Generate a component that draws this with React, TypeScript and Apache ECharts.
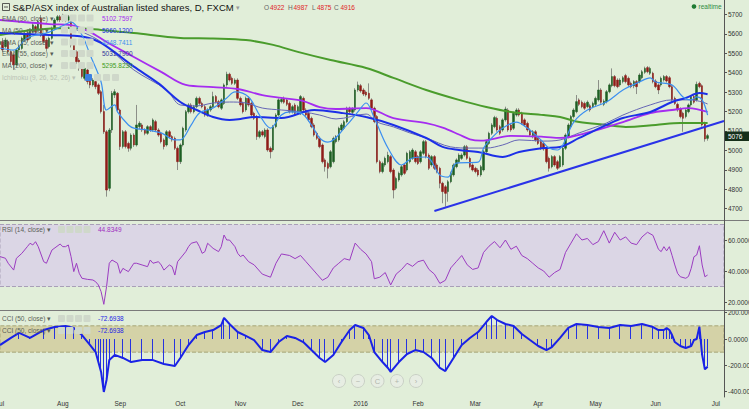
import React, { useEffect, useRef } from "react";
import * as echarts from "echarts";

// ---------- DATA ----------
// daily candles [open, close, low, high], weekdays from 2015-07-01
const candles: number[][] = [
  [5545,5560,5530,5575],[5560,5517,5505,5578],[5534,5568,5525,5580],[5560,5508,5498,5570],[5508,5457,5440,5515],
  [5491,5440,5414,5500],[5440,5517,5432,5525],[5517,5534,5505,5545],[5525,5577,5518,5586],[5568,5603,5560,5612],
  [5603,5568,5555,5615],[5577,5620,5570,5628],[5611,5646,5603,5655],[5637,5611,5600,5646],[5620,5663,5612,5672],
  [5680,5594,5585,5697],[5594,5560,5550,5603],[5568,5525,5512,5577],[5534,5577,5525,5586],[5577,5628,5570,5637],
  [5628,5671,5620,5680],[5671,5688,5663,5697],[5688,5671,5660,5697],[5671,5697,5663,5703],[5688,5671,5660,5697],
  [5671,5688,5663,5697],[5663,5543,5530,5672],[5543,5491,5480,5550],[5508,5457,5445,5515],[5465,5422,5410,5475],
  [5431,5380,5370,5440],[5371,5422,5360,5430],[5414,5354,5340,5422],[5362,5337,5320,5370],[5337,5362,5328,5372],
  [5354,5328,5315,5362],[5337,5294,5285,5345],[5302,5200,5190,5310],[5200,5096,5085,5234],[5096,4796,4762,5105],
  [4805,5105,4790,5115],[5105,5294,5090,5306],[5285,5302,5270,5315],[5294,5208,5195,5300],[5208,5020,5002,5215],
  [5020,5096,5010,5105],[5096,5020,5010,5105],[5036,5011,4993,5045],[5011,5079,5000,5088],[5079,5028,5018,5088],
  [5028,5131,5020,5234],[5122,5140,5110,5150],[5131,5105,5095,5140],[5105,5088,5078,5114],[5088,5122,5080,5130],
  [5122,5105,5095,5130],[5105,5157,5096,5165],[5148,5105,5096,5157],[5105,5079,5070,5114],[5088,5045,5036,5096],
  [5054,5020,5005,5062],[5028,5096,5020,5105],[5096,5071,5062,5105],[5071,5054,5045,5079],[5062,5011,5002,5071],
  [5011,4942,4899,5020],[4942,5028,4930,5036],[5028,5114,5020,5122],[5105,5199,5096,5208],[5199,5234,5190,5243],
  [5234,5199,5190,5243],[5199,5225,5190,5234],[5225,5268,5217,5277],[5268,5242,5234,5277],[5242,5225,5217,5251],
  [5225,5182,5173,5234],[5182,5208,5173,5217],[5208,5225,5199,5234],[5225,5277,5217,5302],[5277,5251,5242,5285],
  [5251,5225,5217,5260],[5217,5260,5208,5268],[5242,5337,5234,5345],[5337,5392,5328,5405],[5392,5362,5354,5400],
  [5371,5345,5337,5380],[5345,5362,5337,5371],[5362,5268,5260,5371],[5268,5234,5225,5277],[5242,5199,5190,5251],
  [5208,5268,5199,5277],[5268,5234,5225,5277],[5242,5182,5173,5251],[5191,5165,5157,5199],[5174,5071,5054,5182],
  [5071,5096,5062,5105],[5096,5079,5071,5105],[5071,5105,5062,5114],[5105,5002,4993,5114],[5011,4993,4959,5020],
  [5002,5122,4993,5131],[5122,5182,5114,5191],[5182,5260,5174,5268],[5251,5262,5242,5270],[5268,5248,5240,5277],
  [5260,5237,5228,5268],[5242,5199,5190,5251],[5199,5225,5190,5234],[5234,5191,5182,5243],[5199,5225,5190,5234],
  [5191,5277,5182,5285],[5268,5208,5199,5277],[5208,5182,5173,5217],[5191,5157,5148,5199],[5165,5122,5114,5174],
  [5131,5079,5071,5140],[5088,5062,5054,5096],[5062,5019,5011,5071],[5028,4942,4933,5036],[4951,4916,4891,4959],
  [4933,4908,4856,4942],[4916,4993,4908,5002],[4942,5062,4933,5071],[5045,5071,5036,5079],[5054,5114,5045,5122],
  [5105,5131,5096,5140],[5114,5148,5105,5157],[5148,5217,5140,5225],[5217,5199,5190,5225],[5196,5213,5187,5222],
  [5208,5311,5199,5320],[5311,5337,5302,5354],[5333,5306,5297,5342],[5311,5290,5280,5320],[5300,5285,5277,5308],
  [5294,5268,5260,5345],[5260,5217,5208,5268],[5217,5148,5140,5225],[5174,4942,4933,5182],[4942,4891,4882,4951],
  [4891,4933,4882,4942],[4925,4959,4916,4968],[4942,4976,4933,4993],[4968,4891,4882,4976],[4899,4796,4753,4908],
  [4805,4856,4796,4865],[4848,4882,4839,4891],[4874,4916,4865,4925],[4925,4882,4874,4933],[4899,4985,4891,4993],
  [4942,4993,4933,5002],[4959,5002,4951,5011],[4993,4942,4933,5002],[4968,4933,4925,4976],[4942,4993,4933,5002],
  [4985,5045,4976,5054],[5045,4968,4959,5054],[4976,4908,4899,4985],[4925,4968,4916,4976],[4968,4908,4899,4976],
  [4925,4891,4882,4933],[4908,4831,4805,4916],[4831,4788,4728,4839],[4813,4779,4711,4822],[4788,4839,4736,4848],
  [4839,4882,4831,4891],[4874,4925,4865,4933],[4916,4951,4908,4959],[4942,4976,4933,4985],[4959,4976,4951,4985],
  [4976,5019,4968,5028],[5019,4959,4951,5028],[4959,4916,4908,4968],[4925,4899,4891,4933],[4908,4891,4882,4916],
  [4899,4874,4865,4908],[4874,4916,4865,4925],[4899,4993,4891,5002],[4993,5045,4985,5054],[5036,5088,5028,5096],
  [5088,5131,5079,5140],[5122,5169,5114,5178],[5165,5105,5096,5174],[5122,5088,5079,5131],[5105,5157,5096,5165],
  [5157,5213,5148,5225],[5208,5105,5096,5217],[5131,5105,5096,5140],[5114,5191,5105,5199],[5182,5208,5174,5217],
  [5208,5182,5174,5217],[5191,5139,5131,5199],[5157,5131,5122,5165],[5139,5105,5096,5148],[5105,5079,5071,5114],
  [5071,5096,5062,5105],[5096,5054,5045,5105],[5062,5036,5028,5071],[5045,5011,5002,5054],[5036,5007,4998,5045],
  [5011,4942,4933,5020],[4959,4908,4891,4968],[4916,4968,4908,4976],[4968,4925,4916,4976],[4942,4908,4899,4951],
  [4916,4968,4908,4976],[4925,5011,4916,5020],[5011,5079,5002,5088],[5071,5131,5062,5140],[5122,5174,5114,5182],
  [5174,5208,5165,5217],[5199,5251,5191,5285],[5260,5237,5228,5268],[5248,5225,5217,5257],[5242,5217,5208,5251],
  [5225,5248,5217,5257],[5230,5208,5199,5240],[5225,5242,5217,5251],[5237,5268,5228,5277],[5260,5311,5251,5362],
  [5311,5248,5240,5320],[5237,5254,5228,5263],[5251,5302,5242,5311],[5302,5337,5294,5345],[5333,5380,5325,5422],
  [5380,5333,5325,5388],[5362,5328,5320,5371],[5337,5362,5328,5371],[5354,5374,5345,5383],[5385,5354,5345,5394],
  [5371,5337,5328,5380],[5345,5328,5320,5354],[5332,5354,5320,5362],[5354,5328,5290,5362],[5354,5388,5345,5397],
  [5374,5405,5366,5414],[5402,5422,5394,5431],[5426,5405,5397,5434],[5397,5422,5388,5431],[5397,5354,5345,5405],
  [5357,5328,5320,5366],[5337,5311,5290,5345],[5337,5371,5328,5380],[5362,5380,5354,5388],[5380,5357,5349,5388],
  [5374,5328,5320,5383],[5328,5260,5251,5337],[5268,5242,5234,5277],[5237,5208,5199,5246],[5213,5174,5165,5222],
  [5191,5165,5096,5199],[5174,5208,5165,5217],[5199,5234,5191,5242],[5234,5277,5225,5285],[5277,5248,5240,5285],
  [5260,5340,5251,5354],[5345,5328,5320,5354],[5333,5131,5122,5340],[5140,5059,5045,5148],[5062,5076,5050,5085],
];

// moving averages read at sample bars: [bar index, value]
const ema90: number[][] = [[0,5671],[18,5650],[26,5645],[33,5609],[39,5558],[49,5481],[59,5404],[68,5337],[78,5326],[87,5316],[96,5285],[103,5270],[111,5254],[117,5223],[123,5213],[134,5218],[144,5166],[156,5140],[162,5117],[168,5082],[172,5057],[176,5050],[187,5075],[199,5070],[205,5064],[216,5095],[228,5146],[238,5192],[246,5208],[252,5218],[259,5198]];
const ma50: number[][] = [[0,5604],[18,5594],[31,5584],[37,5553],[49,5431],[58,5345],[66,5249],[72,5208],[78,5172],[84,5157],[88,5162],[93,5172],[103,5167],[115,5208],[125,5193],[134,5172],[144,5131],[156,5064],[162,5018],[168,5002],[175,4992],[184,4966],[190,4992],[199,5012],[205,5018],[212,5064],[222,5131],[228,5167],[238,5198],[246,5249],[251,5270],[256,5295],[259,5289]];
const ema15: number[][] = [[0,5527],[5,5516],[10,5579],[18,5609],[25,5656],[26,5661],[30,5594],[33,5491],[37,5352],[39,5208],[42,5234],[43,5198],[47,5131],[49,5115],[54,5105],[59,5090],[64,5054],[66,5054],[70,5131],[73,5193],[78,5218],[83,5270],[86,5301],[91,5275],[95,5182],[99,5115],[103,5182],[106,5198],[110,5193],[114,5131],[117,5064],[120,5043],[127,5131],[131,5198],[134,5244],[137,5167],[142,5012],[147,4925],[151,4961],[156,4966],[161,4873],[164,4863],[167,4935],[175,4940],[177,5012],[181,5079],[184,5115],[189,5146],[193,5115],[198,5054],[201,5012],[204,5002],[206,5028],[210,5146],[215,5208],[222,5249],[228,5311],[234,5352],[238,5373],[240,5352],[246,5337],[250,5275],[253,5260],[255,5275],[257,5260],[259,5182]];
const ema55: number[][] = [[25,5635],[31,5604],[37,5558],[49,5414],[61,5311],[66,5234],[72,5229],[78,5244],[84,5249],[90,5244],[96,5218],[103,5208],[111,5198],[117,5182],[123,5162],[134,5187],[138,5146],[144,5121],[150,5090],[156,5064],[165,5018],[172,5012],[178,5012],[184,5028],[190,5054],[199,5048],[205,5054],[212,5090],[222,5141],[228,5182],[238,5234],[246,5260],[253,5260],[257,5249],[259,5239]];
const ma200: number[][] = [[0,5594],[12,5620],[25,5630],[37,5620],[49,5604],[66,5579],[78,5576],[90,5568],[100,5543],[109,5507],[121,5465],[134,5424],[144,5373],[156,5311],[168,5260],[178,5223],[187,5198],[199,5182],[205,5172],[212,5146],[222,5131],[229,5121],[240,5131],[249,5141],[259,5141]];
const trendLine: number[][] = [[159,4688],[265,5151]];

const rsi: number[][] = [[0,49.3],[2,48.2],[3,45],[5,40.6],[6,48.2],[8,51.4],[10,55.7],[11,57.9],[12,56.8],[13,58.9],[14,55.7],[16,46],[17,45],[19,53.5],[22,57.4],[23,55.7],[24,55.7],[25,56.8],[26,49.3],[27,39.6],[28,45],[29,38.5],[30,35.3],[32,34.6],[34,34.2],[35,33.1],[36,31],[37,26.7],[38,18.5],[39,29.9],[40,45],[41,47.1],[43,45],[44,38.5],[45,41.7],[46,40.6],[47,39.6],[49,45],[50,45],[52,43.9],[54,42.8],[55,47.1],[56,45],[58,46],[59,43.9],[60,40.6],[62,43.9],[63,42.8],[64,37.4],[65,46],[67,50.3],[68,52.5],[69,55.7],[70,57.9],[72,58.9],[73,55.7],[74,51.4],[75,52.5],[76,57.9],[78,54.6],[80,52.5],[81,55.7],[82,63.2],[83,60],[84,60],[86,55.7],[87,51.4],[88,49.3],[89,50.3],[91,46],[93,44],[96,38],[99,36],[101,45],[103,51],[106,50],[108,48],[110,50],[112,46],[114,42],[116,38],[118,34],[120,36],[122,42],[124,45],[126,48],[128,47],[130,58],[132,54],[134,51],[136,46],[137,35],[139,36],[141,39],[143,31],[145,38],[147,41],[149,45],[151,43],[153,46],[155,47],[157,41],[159,38],[161,32],[163,34],[165,42],[167,46],[169,50],[171,44],[173,41],[175,42],[177,52],[179,56],[181,59],[183,55],[185,60],[187,54],[189,56],[191,50],[193,48],[195,45],[197,42],[199,40],[201,36],[203,39],[205,41],[207,52],[209,58],[211,64],[213,60],[215,61],[217,57],[219,59],[221,66],[223,58],[225,65],[227,60],[229,62],[231,58],[233,57],[235,62],[237,65],[239,63],[241,54],[242,52.5],[243,55.7],[244,53],[245,55.7],[246,50],[247,43.9],[248,38.5],[249,36.3],[251,35.3],[252,36.5],[253,41.7],[254,49.2],[255,50.3],[256,56.3],[257,43.9],[258,36.3],[259,37.4]];

const cci: number[][] = [[0,-46],[4,8],[7,46],[11,8],[16,68],[20,91],[24,99],[27,84],[30,30],[33,-46],[35,-99],[36,-175],[37,-250],[38,-402],[39,-311],[40,-160],[42,-121],[45,-144],[48,-175],[52,-160],[56,-160],[60,-190],[64,-205],[66,-144],[69,-46],[72,30],[75,53],[78,68],[81,106],[82,160],[84,114],[87,53],[90,23],[93,-8],[96,-84],[99,-99],[102,-23],[105,23],[108,8],[111,-23],[114,-84],[117,-144],[119,-175],[122,-121],[125,-23],[128,68],[130,106],[133,84],[135,30],[137,-99],[140,-175],[142,-220],[143,-250],[146,-175],[149,-114],[152,-84],[155,-99],[158,-144],[161,-220],[163,-243],[166,-144],[169,-46],[172,8],[175,53],[178,129],[180,175],[182,144],[185,114],[188,99],[191,38],[194,-8],[197,-53],[200,-84],[202,-61],[205,8],[208,84],[211,114],[215,106],[219,91],[223,84],[227,106],[231,99],[235,114],[239,91],[241,68],[243,68],[244,83],[245,68],[246,30],[247,-23],[249,-53],[251,-68],[253,-53],[254,-8],[255,0],[256,93],[257,-120],[258,-230],[259,-210]];

const priceTicks = [4700, 4800, 4900, 5000, 5100, 5200, 5300, 5400, 5500, 5600, 5700];
const rsiTicks = [20, 40, 60];
const cciTicks = [200, 0, -200, -400];
const monthKeys = ["2015-07","2015-08","2015-09","2015-10","2015-11","2015-12","2016-01","2016-02","2016-03","2016-04","2016-05","2016-06","2016-07"];
const monthNames = ["Jul","Aug","Sep","Oct","Nov","Dec","2016","Feb","Mar","Apr","May","Jun","Jul"];

const legendLabels = ["EMA (90, close)", "MA (50, close)", "EMA (15, close)", "EMA (55, close)", "MA (200, close)"];
const legendValues = ["5102.7597", "5060.1200", "4948.7411", "5031.7900", "5295.8230"];
const ohlcLetters = ["O", "H", "L", "C"];
const ohlcValues = ["4922", "4987", "4875", "4916"];

// ---------- helpers ----------
const FONT = "'Liberation Sans', Arial, sans-serif";
const C_EMA90 = "#a52cf0";
const C_MA50 = "#1c2fe8";
const C_EMA15 = "#3b8ff0";
const C_EMA55 = "#6565b5";
const C_MA200 = "#4a9c2c";
const C_RSI = "#9b3cc0";
const C_CCI = "#1a22e6";
const BG = "#e1eed9";

function tradingDays(start: string, count: number): string[] {
  const out: string[] = [];
  const d = new Date(start + "T00:00:00Z");
  while (out.length < count) {
    const wd = d.getUTCDay();
    if (wd !== 0 && wd !== 6) out.push(d.toISOString().slice(0, 10));
    d.setUTCDate(d.getUTCDate() + 1);
  }
  return out;
}

const dates = tradingDays("2015-07-01", 266);
const monthLabelAt: Record<number, string> = {};
dates.forEach((d, i) => {
  const k = d.slice(0, 7);
  if (i === 0 || dates[i - 1].slice(0, 7) !== k) {
    const m = monthKeys.indexOf(k);
    if (m >= 0) monthLabelAt[i] = monthNames[m];
  }
});

function txt(x: number, y: number, text: string, fill: string, size = 6.5, extra: any = {}) {
  return {
    type: "text", x, y, silent: true, z: 100,
    style: { text, fill, fontSize: size, fontFamily: FONT, verticalAlign: "middle", ...extra },
  };
}
function icons(x0: number, y: number, step = 8.5, first?: string) {
  const out: any[] = [];
  for (let k = 0; k < 4; k++) {
    out.push({
      type: "rect", silent: true, z: 100,
      shape: { x: x0 + k * step, y: y - 3.5, width: 7, height: 7, r: 1 },
      style: { fill: k === 0 && first ? first : "#cfd8ca" },
    });
  }
  return out;
}

function buildGraphics() {
  const g: any[] = [];
  g.push({ type: "line", silent: true, z: 50, shape: { x1: 0, y1: 220.5, x2: 749, y2: 220.5 }, style: { stroke: "#7a7a7a", lineWidth: 1 } });
  g.push({ type: "line", silent: true, z: 50, shape: { x1: 0, y1: 310.5, x2: 749, y2: 310.5 }, style: { stroke: "#7a7a7a", lineWidth: 1 } });
  g.push({ type: "line", silent: true, z: 50, shape: { x1: 724.5, y1: 0, x2: 724.5, y2: 397 }, style: { stroke: "#555", lineWidth: 1 } });
  g.push({ type: "rect", silent: true, z: 100, shape: { x: 2.5, y: 3.5, width: 7, height: 7 }, style: { fill: "none", stroke: "#333", lineWidth: 0.8 } });
  g.push({ type: "line", silent: true, z: 100, shape: { x1: 4, y1: 7, x2: 8, y2: 7 }, style: { stroke: "#333", lineWidth: 0.8 } });
  g.push(txt(12.5, 7, "S&P/ASX index of Australian listed shares, D, FXCM", "#111", 9.5));
  g.push(txt(236, 7, "▾", "#999", 7));
  const ox = [264, 288, 312, 334];
  const vx = [270, 293.5, 317, 340.5];
  ohlcLetters.forEach((l, k) => {
    g.push(txt(ox[k], 7, l, "#666"));
    g.push(txt(vx[k], 7, ohlcValues[k], "#e0241f"));
  });
  g.push({ type: "circle", silent: true, z: 100, shape: { cx: 694, cy: 6.5, r: 2.3 }, style: { fill: "#1f7b33" } });
  g.push(txt(698.5, 6.5, "realtime", "#2f8b3f"));
  const colors = [C_EMA90, C_MA50, C_EMA15, "#34349a", "#3c9a20"];
  const rowsY = [18, 30, 42, 53.5, 65.5];
  legendLabels.forEach((l, k) => {
    g.push(txt(2, rowsY[k], l + " ▾", "#5a5f58"));
    g.push(...icons(61, rowsY[k]));
    g.push(txt(102, rowsY[k], legendValues[k], colors[k]));
  });
  g.push(txt(2, 77.5, "Ichimoku (9, 26, 52, 26) ▾", "#b9c2b5"));
  g.push(...icons(85, 77.5, 9, "#3b7fe0"));
  g.push(txt(2, 229.5, "RSI (14, close) ▾", "#5a5f58"));
  g.push(...icons(58, 229.5));
  g.push(txt(98, 229.5, "44.8349", "#a030c0"));
  [318.5, 330.5].forEach((y) => {
    g.push(txt(2, y, "CCI (50, close) ▾", "#5a5f58"));
    g.push(...icons(58, y));
    g.push(txt(98, y, "-72.6938", C_CCI));
  });
  g.push({ type: "rect", silent: true, z: 110, shape: { x: 725, y: 131.5, width: 24, height: 9.5 }, style: { fill: "#16301a" } });
  g.push({ ...txt(728, 136.4, "5076", "#ffffff"), z: 111 });
  const nav = ["‹", "−", "C", "+", "›"];
  const navX = [339, 358, 377.5, 397, 416];
  nav.forEach((s, k) => {
    g.push({ type: "circle", silent: true, z: 100, shape: { cx: navX[k], cy: 381, r: 6.5 }, style: { fill: "#e7ede3", stroke: "#c9d0c5", lineWidth: 1 } });
    g.push(txt(navX[k], 381, s, "#b0b5ad", 7.5, { align: "center" }));
  });
  return g;
}

function buildOption(): any {
  const bodies = candles.map(([o, c]) => [o, c, Math.min(o, c), Math.max(o, c)]);
  // histogram drawn as thin candles from 0 to the CCI value
  const cciHist = cci.map(([i, v]) => [i, 0, v, Math.min(0, v), Math.max(0, v)]);
  const axisLabelBase = { fontSize: 6.5, color: "#333", fontFamily: FONT, margin: 4 };
  const yCommon = {
    position: "right",
    axisLine: { show: true, lineStyle: { color: "#555" } },
    axisTick: { show: true, length: 3, lineStyle: { color: "#555" } },
    splitLine: { show: false },
  };
  const line = (name: string, data: number[][], color: string, width: number, z = 4) => ({
    name, type: "line", xAxisIndex: 0, yAxisIndex: 0, data, showSymbol: false, symbol: "none",
    smooth: 0.35, lineStyle: { color, width }, z, silent: true,
  });
  const first = dates[0];
  const last = dates[dates.length - 1];
  return {
    animation: false,
    backgroundColor: BG,
    grid: [
      { left: 0, top: 0, width: 724, height: 219, outerBoundsMode: "none", containLabel: false },
      { left: 0, top: 221, width: 724, height: 89, outerBoundsMode: "none", containLabel: false },
      { left: 0, top: 310, width: 724, height: 87, outerBoundsMode: "none", containLabel: false },
    ],
    xAxis: [0, 1, 2].map((gi) => ({
      type: "category", gridIndex: gi, data: dates, boundaryGap: false,
      axisLine: { show: gi === 2, lineStyle: { color: "#555" } },
      axisTick: { show: false },
      splitLine: { show: false },
      axisLabel: gi === 2 ? {
        ...axisLabelBase, margin: 3, alignMinLabel: "center", alignMaxLabel: "center",
        interval: (i: number) => monthLabelAt[i] !== undefined,
        formatter: (_v: string, i: number) => monthLabelAt[i] ?? "",
      } : { show: false },
    })),
    yAxis: [
      { ...yCommon, gridIndex: 0, min: 4647, max: 5774,
        axisLabel: { ...axisLabelBase, customValues: priceTicks, formatter: (v: number) => String(v) },
        axisTick: { ...yCommon.axisTick, customValues: priceTicks } },
      { ...yCommon, gridIndex: 1, min: 14.84, max: 72.26,
        axisLabel: { ...axisLabelBase, customValues: rsiTicks, formatter: (v: number) => v.toFixed(4) },
        axisTick: { ...yCommon.axisTick, customValues: rsiTicks } },
      { ...yCommon, gridIndex: 2, min: -440.4, max: 220.2,
        axisLabel: { ...axisLabelBase, customValues: cciTicks, formatter: (v: number) => v.toFixed(4) },
        axisTick: { ...yCommon.axisTick, customValues: cciTicks } },
    ],
    series: [
      {
        name: "wick", type: "candlestick", xAxisIndex: 0, yAxisIndex: 0, data: candles, barWidth: 1, z: 2, silent: true,
        itemStyle: { color: "#8c8f88", color0: "#8c8f88", borderColor: "#8c8f88", borderColor0: "#8c8f88", borderWidth: 1 },
      },
      {
        name: "body", type: "candlestick", xAxisIndex: 0, yAxisIndex: 0, data: bodies, barWidth: 2, z: 3, silent: true,
        itemStyle: { color: "#1d5e22", color0: "#8e1b17", borderColor: "#1d5e22", borderColor0: "#8e1b17", borderWidth: 0.5 },
      },
      line("MA200", ma200, C_MA200, 2),
      line("EMA55", ema55, C_EMA55, 1),
      line("EMA90", ema90, C_EMA90, 1.8),
      line("MA50", ma50, C_MA50, 2),
      line("EMA15", ema15, C_EMA15, 1.2),
      { name: "trend", type: "line", xAxisIndex: 0, yAxisIndex: 0, data: trendLine, symbol: "none", showSymbol: false,
        lineStyle: { color: "#2a33e8", width: 2 }, z: 6, silent: true },
      {
        name: "RSI", type: "line", xAxisIndex: 1, yAxisIndex: 1, data: rsi, symbol: "none", showSymbol: false,
        lineStyle: { color: C_RSI, width: 1 }, z: 4, silent: true,
        markArea: { silent: true, itemStyle: { color: "#dbd6e5", borderColor: "#a99fb8", borderWidth: 1, borderType: "dashed" },
          data: [[{ xAxis: first, yAxis: 30 }, { xAxis: last, yAxis: 70 }]] },
      },
      {
        name: "CCI hist", type: "candlestick", xAxisIndex: 2, yAxisIndex: 2, data: cciHist,
        encode: { x: 0, y: [1, 2, 3, 4] }, barWidth: 1, z: 3, silent: true,
        itemStyle: { color: "#2633e0", color0: "#2633e0", borderColor: "#2633e0", borderColor0: "#2633e0", borderWidth: 1 },
      },
      {
        name: "CCI", type: "line", xAxisIndex: 2, yAxisIndex: 2, data: cci, symbol: "none", showSymbol: false,
        lineStyle: { color: C_CCI, width: 2 }, z: 4, silent: true,
        markArea: { silent: true, itemStyle: { color: "#d4d2a7", borderColor: "#a8a678", borderWidth: 1, borderType: "dashed" },
          data: [[{ xAxis: first, yAxis: -100 }, { xAxis: last, yAxis: 100 }]] },
      },
    ],
    graphic: { elements: buildGraphics() },
  };
}

export default function App() {
  const ref = useRef<HTMLDivElement>(null);
  useEffect(() => {
    document.body.style.margin = "0";
    const chart = echarts.init(ref.current!, null, { renderer: "svg" });
    chart.setOption(buildOption());
    return () => chart.dispose();
  }, []);
  return <div ref={ref} style={{ position: "fixed", left: 0, top: 0, width: 749, height: 409 }} />;
}
